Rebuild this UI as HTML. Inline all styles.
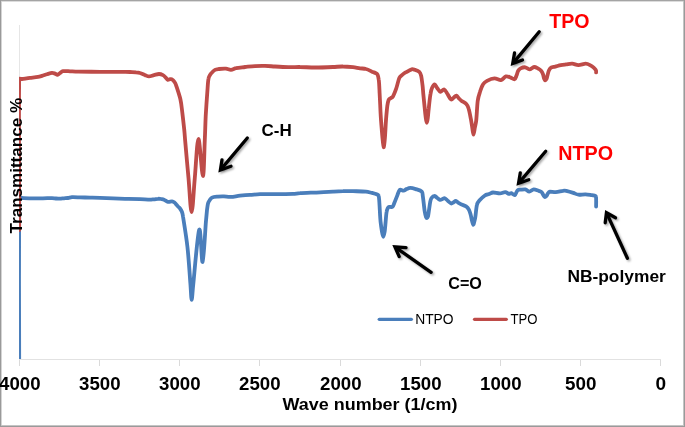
<!DOCTYPE html>
<html><head><meta charset="utf-8"><style>
html,body{margin:0;padding:0;background:#fff;}
body{width:685px;height:427px;overflow:hidden;position:relative;}
svg{position:absolute;left:0;top:0;display:block;will-change:transform;}
text{font-family:"Liberation Sans",sans-serif;}
</style></head><body>
<svg width="685" height="427" viewBox="0 0 685 427">
<defs>
<clipPath id="pa"><rect x="19" y="20" width="642" height="339"/></clipPath>
<filter id="sh" x="-20%" y="-20%" width="140%" height="140%"><feGaussianBlur stdDeviation="1.2"/></filter>
</defs>
<rect x="0" y="0" width="685" height="427" fill="#fff"/>
<!-- border -->
<rect x="1" y="1" width="683" height="1" fill="#dcdcdc"/>
<rect x="1" y="1" width="1" height="425" fill="#d4d4d4"/>
<rect x="1" y="425" width="683" height="1" fill="#c4c4c4"/>
<rect x="683" y="1" width="1" height="425" fill="#c4c4c4"/>
<rect x="0" y="0" width="685" height="1" fill="#a4a4a4"/>
<rect x="0" y="0" width="1" height="427" fill="#9a9a9a"/>
<rect x="684" y="0" width="1" height="427" fill="#9a9a9a"/>
<rect x="0" y="426" width="685" height="1" fill="#9a9a9a"/>
<!-- axes -->
<g stroke-width="1" fill="none">
<line x1="19.5" y1="25" x2="19.5" y2="359" stroke="#e6e6e6"/>
<line x1="19" y1="359.5" x2="661" y2="359.5" stroke="#e2e2e2"/>
<g stroke="#dadada"><line x1="19.5" y1="360" x2="19.5" y2="366"/><line x1="99.5" y1="360" x2="99.5" y2="366"/><line x1="179.5" y1="360" x2="179.5" y2="366"/><line x1="259.5" y1="360" x2="259.5" y2="366"/><line x1="340.5" y1="360" x2="340.5" y2="366"/><line x1="420.5" y1="360" x2="420.5" y2="366"/><line x1="500.5" y1="360" x2="500.5" y2="366"/><line x1="580.5" y1="360" x2="580.5" y2="366"/><line x1="660.5" y1="360" x2="660.5" y2="366"/></g>
</g>
<!-- series -->
<g clip-path="url(#pa)">
<path d="M19.20,362.00 C19.2,334.7 18.7,225.3 19.2,198.0 C19.2,197.0 21.0,198.0 22.0,198.0 C25.5,198.1 35.0,198.4 40.0,198.4 C44.2,198.4 49.3,198.1 52.0,198.1 C53.4,198.1 54.7,198.4 56.0,198.5 C57.3,198.6 58.7,198.7 60.0,198.7 C61.3,198.7 62.7,198.4 64.0,198.3 C65.3,198.2 66.7,198.2 68.0,198.0 C69.3,197.8 70.6,197.3 72.0,197.2 C74.0,197.1 77.2,197.3 80.0,197.4 C83.0,197.5 86.7,197.5 90.0,197.6 C93.3,197.7 96.5,197.8 100.0,197.9 C105.8,198.1 118.3,198.5 125.0,198.8 C130.2,198.9 135.8,199.1 140.0,199.2 C143.5,199.3 147.7,199.6 150.0,199.6 C151.4,199.6 152.7,199.4 154.0,199.3 C155.3,199.2 156.8,198.8 158.0,198.8 C159.1,198.7 160.0,198.8 161.0,199.0 C162.0,199.2 163.0,199.3 164.0,199.7 C165.2,200.2 166.7,201.6 168.0,201.9 C169.3,202.2 170.9,201.3 172.0,201.4 C173.0,201.5 173.8,202.0 174.5,202.5 C175.2,203.0 175.5,203.6 176.0,204.2 C176.6,204.9 177.3,205.8 178.0,206.5 C178.7,207.2 179.4,207.7 180.0,208.5 C180.7,209.4 181.5,210.7 182.0,212.0 C182.5,213.3 182.8,214.9 183.0,216.5 C183.9,222.3 186.2,236.0 187.4,246.6 C188.7,258.0 189.8,276.1 190.5,285.0 C190.9,290.2 191.2,299.8 191.7,299.8 C192.1,299.8 192.6,290.2 193.2,285.0 C194.4,273.3 197.6,233.5 199.2,229.7 C200.8,225.9 201.5,263.3 202.6,262.0 C203.7,260.7 205.2,230.6 205.9,221.9 C206.3,217.7 206.7,213.1 207.0,210.0 C207.3,207.7 207.6,205.1 208.0,203.5 C208.3,202.4 208.8,201.5 209.5,200.5 C210.2,199.5 210.8,198.2 212.0,197.6 C213.4,196.9 216.0,196.8 218.0,196.6 C220.0,196.4 221.9,196.3 224.0,196.4 C226.2,196.5 228.5,197.1 231.0,196.9 C233.7,196.8 236.8,196.0 240.0,195.7 C243.2,195.4 246.7,195.1 250.0,194.9 C253.3,194.7 256.5,194.3 260.0,194.2 C265.0,194.1 274.5,194.1 280.0,194.1 C284.5,194.0 289.7,194.1 293.0,193.9 C295.5,193.8 297.5,193.3 300.0,193.2 C304.5,192.9 314.5,192.6 320.0,192.3 C324.6,192.1 329.2,191.8 333.0,191.6 C336.5,191.4 339.7,191.2 343.0,191.2 C346.3,191.1 349.5,191.2 353.0,191.2 C356.8,191.3 362.8,191.3 366.0,191.6 C368.1,191.8 370.2,192.5 372.0,192.9 C373.8,193.4 375.9,194.0 377.0,194.4 C377.6,194.6 378.3,194.9 378.5,195.5 C378.9,196.4 379.1,198.4 379.2,200.0 C379.4,202.4 379.6,206.5 379.8,210.0 C380.0,213.7 380.2,218.3 380.6,222.0 C381.0,225.5 381.6,229.5 382.0,232.0 C382.3,233.7 382.9,236.8 383.3,236.8 C383.7,236.8 384.3,233.7 384.6,232.0 C385.0,229.5 385.3,225.3 385.6,222.0 C385.9,218.7 386.2,214.3 386.6,212.0 C386.8,210.6 387.4,208.9 387.8,208.0 C388.1,207.4 388.6,207.0 389.3,206.8 C390.1,206.6 391.6,207.5 392.5,206.8 C393.4,206.1 393.8,204.2 394.4,202.8 C395.2,200.9 396.5,197.3 397.4,195.2 C398.2,193.3 398.7,190.7 399.7,189.9 C400.7,189.2 402.4,190.8 403.5,190.7 C404.6,190.6 405.4,189.6 406.5,189.1 C407.6,188.6 408.9,187.9 410.3,187.9 C411.8,187.9 413.9,188.5 415.7,189.1 C417.6,189.7 420.6,190.4 421.8,191.6 C422.9,192.7 422.5,194.4 422.8,196.0 C423.1,198.1 423.5,201.3 423.8,204.0 C424.1,206.7 424.4,209.8 424.8,212.0 C425.1,213.8 425.6,216.0 426.0,217.0 C426.2,217.5 426.7,218.1 427.0,218.0 C427.3,217.9 427.8,217.1 428.0,216.5 C428.3,215.2 428.7,212.3 429.0,210.0 C429.4,207.6 429.8,204.0 430.2,202.0 C430.5,200.6 430.8,199.0 431.5,198.0 C432.2,197.0 433.7,196.0 434.7,196.0 C435.7,196.0 436.4,197.4 437.3,198.0 C438.2,198.6 439.1,199.6 440.0,199.8 C440.9,200.0 441.7,199.3 442.5,199.0 C443.3,198.7 444.0,197.9 444.8,198.2 C445.7,198.5 446.9,200.1 448.0,201.0 C449.1,201.9 450.2,203.3 451.1,203.5 C452.0,203.7 452.7,202.8 453.5,202.3 C454.3,201.9 455.0,200.7 455.8,200.8 C456.6,200.9 457.5,202.2 458.5,202.8 C459.5,203.4 460.5,204.0 461.6,204.5 C462.9,205.1 465.2,205.7 466.4,206.6 C467.6,207.4 468.3,208.5 469.0,209.8 C469.7,211.1 470.1,212.8 470.6,214.5 C471.1,216.2 471.4,218.3 471.8,220.0 C472.2,221.7 472.8,224.5 473.2,224.7 C473.6,224.9 474.1,222.3 474.5,221.0 C474.9,219.7 475.2,218.2 475.4,216.6 C475.8,213.8 476.3,207.2 477.0,204.5 C477.4,202.8 478.5,201.6 479.6,200.3 C480.9,198.8 483.3,196.6 484.9,195.5 C486.2,194.6 487.8,194.5 489.1,194.0 C490.5,193.5 491.5,192.6 493.0,192.5 C494.8,192.4 497.9,193.5 500.0,193.4 C501.9,193.3 503.8,192.0 505.3,192.1 C506.7,192.2 507.8,193.6 508.8,193.8 C509.7,194.0 510.5,193.0 511.4,193.2 C512.4,193.4 513.9,195.6 514.9,195.1 C515.9,194.6 516.5,191.2 517.5,190.3 C518.4,189.5 519.8,189.8 521.0,189.7 C522.3,189.5 524.0,189.1 525.4,189.4 C526.8,189.7 527.9,191.6 529.3,191.6 C530.7,191.6 532.2,189.5 533.7,189.4 C535.2,189.3 537.2,190.4 538.5,190.8 C539.6,191.2 540.8,191.4 541.6,192.1 C542.4,192.8 542.7,194.0 543.2,194.8 C543.7,195.6 544.2,196.8 544.8,197.0 C545.3,197.2 546.0,196.5 546.5,196.0 C547.0,195.4 547.4,194.1 547.9,193.4 C548.4,192.7 548.7,191.7 549.6,191.6 C550.9,191.4 553.6,192.2 555.8,192.1 C558.0,192.0 561.0,191.0 562.8,190.8 C564.0,190.6 565.1,190.6 566.3,190.8 C568.0,191.2 571.3,192.2 573.3,192.9 C575.1,193.5 576.6,194.5 578.5,194.7 C580.5,194.9 583.3,194.2 585.5,194.3 C587.7,194.4 590.2,194.9 591.7,195.1 C592.6,195.2 593.6,195.3 594.3,195.6 C595.0,195.8 595.9,195.9 596.0,196.6 C596.3,198.4 596.1,204.8 596.1,206.5" fill="none" stroke="#4a7ebb" stroke-width="3.8" stroke-linejoin="round" stroke-linecap="round"/>
<path d="M19.20,230.00 C19.2,204.9 18.7,104.4 19.2,79.2 C19.2,78.2 21.0,79.1 22.0,79.0 C23.8,78.8 27.3,78.1 30.0,77.8 C32.7,77.5 36.0,77.2 38.0,76.9 C39.4,76.7 40.6,76.3 42.0,75.9 C43.5,75.5 45.3,74.7 47.0,74.2 C48.7,73.7 50.7,73.0 52.0,72.9 C53.1,72.8 54.1,73.3 55.0,73.6 C55.9,73.9 56.7,75.0 57.5,74.9 C58.3,74.8 59.1,73.6 60.0,73.0 C60.9,72.4 61.8,71.4 63.0,71.2 C64.7,70.9 67.6,71.2 70.0,71.3 C72.5,71.4 75.2,71.6 78.0,71.6 C83.0,71.7 93.0,71.8 100.0,71.8 C107.0,71.8 115.0,71.8 120.0,71.8 C123.5,71.8 127.3,72.0 130.0,72.0 C132.1,72.1 134.3,72.1 136.0,72.3 C137.4,72.4 138.6,72.5 140.0,73.0 C141.5,73.4 143.5,74.5 145.0,75.1 C146.4,75.6 147.5,76.4 149.0,76.4 C150.5,76.4 152.3,75.5 154.0,75.1 C155.7,74.7 157.5,74.0 159.0,74.0 C160.5,74.0 161.8,74.5 163.0,75.1 C164.2,75.7 165.2,77.0 166.0,77.8 C166.6,78.4 167.1,79.5 167.7,79.7 C168.3,80.0 168.9,79.4 169.5,79.3 C170.2,79.2 171.0,78.8 171.6,79.2 C172.5,79.7 174.1,81.3 174.8,82.3 C175.4,83.1 175.7,84.0 176.0,85.0 C176.9,87.8 179.3,94.7 180.4,99.3 C181.4,103.8 181.7,107.8 182.3,112.4 C182.9,117.4 183.7,124.7 184.2,129.3 C184.6,133.0 184.8,136.3 185.1,140.0 C185.8,148.1 187.4,166.0 188.5,178.0 C189.6,190.0 190.5,212.2 191.6,212.2 C192.7,212.2 193.7,190.0 194.8,178.0 C195.9,165.8 197.1,139.3 198.4,139.0 C199.8,138.7 201.8,175.8 202.9,176.0 C204.0,176.2 204.3,150.0 204.8,140.0 C205.2,131.7 205.3,124.5 205.7,116.2 C206.2,107.5 207.1,94.4 207.6,88.1 C207.8,84.8 208.1,80.8 208.5,78.6 C208.7,77.3 209.4,76.1 210.0,75.1 C210.6,74.1 211.2,73.3 212.0,72.5 C212.8,71.6 213.8,70.5 215.0,69.9 C216.2,69.3 217.6,69.2 219.0,69.0 C220.8,68.8 224.0,68.6 226.0,68.7 C227.8,68.8 229.3,69.9 231.0,69.8 C232.7,69.8 234.2,68.5 236.0,68.2 C238.3,67.7 241.8,67.4 245.0,67.0 C248.2,66.7 251.7,66.3 255.0,66.1 C258.3,65.9 261.7,65.8 265.0,65.9 C268.3,66.0 271.5,66.3 275.0,66.5 C279.2,66.7 285.8,67.2 290.0,67.2 C293.5,67.3 296.5,66.9 300.0,67.0 C304.2,67.0 309.7,67.5 315.0,67.5 C320.5,67.5 328.3,67.2 333.0,67.0 C336.5,66.9 339.7,66.4 343.0,66.5 C346.3,66.5 350.2,66.9 353.0,67.2 C355.5,67.5 357.8,68.0 360.0,68.3 C362.1,68.6 364.0,68.4 366.0,69.0 C368.0,69.5 370.3,70.9 372.0,71.7 C373.4,72.3 375.1,72.8 376.0,73.3 C376.6,73.6 377.2,73.9 377.5,74.5 C378.0,75.6 378.6,78.0 378.8,80.0 C379.2,83.1 379.4,88.8 379.6,93.0 C379.8,97.2 380.0,100.8 380.2,105.0 C380.4,109.5 380.6,114.8 381.0,120.0 C381.4,125.2 381.9,131.4 382.3,136.0 C382.7,140.0 383.2,147.0 383.6,147.3 C384.0,147.6 384.6,141.3 384.9,138.0 C385.3,133.4 385.6,125.3 386.0,120.0 C386.4,115.1 386.9,109.3 387.3,106.0 C387.6,103.9 388.1,101.3 388.6,100.0 C389.0,99.1 389.9,98.8 390.6,98.2 C391.3,97.7 392.3,97.5 392.8,96.7 C393.7,95.2 395.1,91.7 396.1,88.9 C397.2,85.8 398.3,80.2 399.4,77.8 C400.1,76.3 401.7,75.3 402.8,74.4 C403.9,73.5 404.9,72.9 406.1,72.2 C407.6,71.3 410.2,69.7 411.7,69.3 C412.8,69.0 413.8,69.5 414.8,69.8 C416.1,70.2 418.2,70.8 419.3,71.8 C420.4,72.8 420.8,74.4 421.2,76.0 C421.7,78.2 422.1,82.0 422.5,85.0 C422.9,88.0 423.0,90.9 423.3,94.0 C423.7,98.0 424.4,105.0 424.8,109.0 C425.1,112.2 425.5,115.7 425.8,118.0 C426.0,119.7 426.5,122.8 426.8,122.8 C427.1,122.8 427.6,119.7 427.8,118.0 C428.1,115.7 428.3,112.1 428.7,109.0 C429.1,105.0 429.9,97.5 430.5,94.0 C430.8,91.9 431.3,89.6 432.0,88.0 C432.6,86.6 433.8,84.3 434.7,84.4 C435.6,84.5 436.6,87.3 437.5,88.5 C438.4,89.7 439.3,91.6 440.4,91.8 C441.5,92.0 443.0,89.1 444.2,89.5 C445.4,89.9 446.4,92.4 447.5,94.0 C448.6,95.7 449.9,98.8 451.0,99.4 C452.0,100.0 452.9,98.1 453.8,97.5 C454.7,96.9 455.5,95.4 456.4,95.6 C457.3,95.8 458.1,97.6 459.0,98.5 C459.9,99.4 460.7,100.1 461.7,100.9 C462.9,101.8 465.1,102.7 466.3,104.0 C467.5,105.3 468.1,106.8 468.6,108.5 C469.4,111.0 470.3,116.0 470.9,119.2 C471.5,122.3 471.9,125.4 472.3,128.0 C472.7,130.3 473.1,134.7 473.5,134.7 C473.9,134.7 474.4,130.3 474.8,128.0 C475.2,125.7 475.9,123.3 476.2,120.7 C476.7,116.2 477.1,105.7 477.7,100.9 C478.1,97.6 479.1,94.5 480.0,91.8 C480.8,89.2 481.7,86.4 482.9,84.6 C483.9,83.0 485.3,81.8 487.0,80.9 C488.9,79.9 492.1,78.5 494.4,78.4 C496.7,78.3 499.1,80.4 501.0,80.1 C502.9,79.8 504.3,76.8 505.9,76.4 C507.5,76.0 509.4,77.1 510.8,77.6 C512.2,78.1 513.5,79.6 514.5,79.3 C515.5,79.0 515.9,77.0 516.5,75.6 C517.1,74.2 517.5,71.9 518.2,70.7 C518.8,69.7 519.6,68.9 520.6,68.4 C521.8,67.8 523.8,67.1 525.3,67.3 C526.8,67.5 528.0,69.5 529.5,69.4 C531.0,69.4 532.6,67.1 534.1,67.0 C535.6,66.9 537.1,68.1 538.3,68.7 C539.4,69.3 540.3,69.9 541.1,70.8 C541.9,71.7 542.4,72.8 542.9,74.0 C543.4,75.3 543.7,77.5 544.1,78.5 C544.4,79.2 544.8,80.2 545.2,80.3 C545.6,80.4 546.2,79.6 546.5,79.0 C546.9,78.2 547.1,76.7 547.5,75.4 C547.9,74.0 548.3,71.8 548.9,70.5 C549.4,69.4 550.0,68.3 551.0,67.7 C552.1,67.0 553.7,67.0 555.2,66.6 C556.8,66.2 559.0,65.5 560.8,65.1 C562.6,64.7 564.2,64.6 566.0,64.4 C567.9,64.2 570.1,63.6 572.2,63.7 C574.3,63.8 576.2,65.1 578.4,65.1 C580.6,65.1 583.8,63.7 585.7,63.7 C587.3,63.7 588.7,64.4 590.0,65.1 C591.3,65.8 592.7,66.8 593.7,67.7 C594.6,68.5 595.5,69.4 595.9,70.2 C596.3,70.9 596.1,72.0 596.1,72.4" fill="none" stroke="#be4b48" stroke-width="3.8" stroke-linejoin="round" stroke-linecap="round"/>
</g>
<!-- arrow shadows -->
<g stroke="#000" stroke-opacity="0.35" stroke-width="3.3" fill="none" stroke-linecap="round" stroke-linejoin="round" filter="url(#sh)">
<path d="M540.70,33.30 L515.84,63.16"/><path stroke-linejoin="miter" stroke-miterlimit="10" d="M516.00,54.50 L514.24,65.08 L524.00,61.50"/><path d="M248.80,139.50 L223.50,169.65"/><path stroke-linejoin="miter" stroke-miterlimit="10" d="M223.50,161.30 L221.90,171.56 L232.50,167.80"/><path d="M547.20,152.80 L521.65,182.85"/><path stroke-linejoin="miter" stroke-miterlimit="10" d="M521.80,174.30 L520.03,184.75 L530.30,181.20"/><path d="M432.60,273.80 L398.46,249.82"/><path stroke-linejoin="miter" stroke-miterlimit="10" d="M407.50,249.10 L396.42,248.38 L400.70,258.10"/><path d="M628.90,259.80 L609.00,216.35"/><path stroke-linejoin="miter" stroke-miterlimit="10" d="M606.70,224.30 L607.96,214.08 L617.00,219.30"/>
</g>
<g stroke="#000" stroke-width="3.3" fill="none" stroke-linecap="round" stroke-linejoin="round">
<path d="M539.20,31.80 L514.34,61.66"/><path stroke-linejoin="miter" stroke-miterlimit="10" d="M514.50,53.00 L512.74,63.58 L522.50,60.00"/><path d="M247.30,138.00 L222.00,168.15"/><path stroke-linejoin="miter" stroke-miterlimit="10" d="M222.00,159.80 L220.40,170.06 L231.00,166.30"/><path d="M545.70,151.30 L520.15,181.35"/><path stroke-linejoin="miter" stroke-miterlimit="10" d="M520.30,172.80 L518.53,183.25 L528.80,179.70"/><path d="M431.10,272.30 L396.96,248.32"/><path stroke-linejoin="miter" stroke-miterlimit="10" d="M406.00,247.60 L394.92,246.88 L399.20,256.60"/><path d="M627.40,258.30 L607.50,214.85"/><path stroke-linejoin="miter" stroke-miterlimit="10" d="M605.20,222.80 L606.46,212.58 L615.50,217.80"/>
</g>
<!-- axis labels -->
<g font-weight="bold" font-size="17.5px" text-anchor="middle" fill="#000">
<text x="19.8" y="389.8" textLength="41.5" lengthAdjust="spacingAndGlyphs">4000</text><text x="99.8" y="389.8" textLength="41.5" lengthAdjust="spacingAndGlyphs">3500</text><text x="179.8" y="389.8" textLength="41.5" lengthAdjust="spacingAndGlyphs">3000</text><text x="259.8" y="389.8" textLength="41.5" lengthAdjust="spacingAndGlyphs">2500</text><text x="340.8" y="389.8" textLength="41.5" lengthAdjust="spacingAndGlyphs">2000</text><text x="420.8" y="389.8" textLength="41.5" lengthAdjust="spacingAndGlyphs">1500</text><text x="500.8" y="389.8" textLength="41.5" lengthAdjust="spacingAndGlyphs">1000</text><text x="580.8" y="389.8" textLength="31.4" lengthAdjust="spacingAndGlyphs">500</text><text x="660.8" y="389.8" textLength="10.6" lengthAdjust="spacingAndGlyphs">0</text>
</g>
<text x="370" y="409.5" font-weight="bold" font-size="16px" text-anchor="middle" fill="#000" textLength="174.8" lengthAdjust="spacingAndGlyphs">Wave number (1/cm)</text>
<text transform="translate(21.9,165.7) rotate(-90)" font-weight="bold" font-size="16.5px" text-anchor="middle" fill="#000" textLength="135.5" lengthAdjust="spacingAndGlyphs">Transmittance %</text>
<!-- annotations -->
<text x="549.2" y="28" font-weight="bold" font-size="19.3px" fill="#ff0000" textLength="40.3" lengthAdjust="spacingAndGlyphs">TPO</text>
<text x="558.2" y="160" font-weight="bold" font-size="19.3px" fill="#ff0000" textLength="54.8" lengthAdjust="spacingAndGlyphs">NTPO</text>
<text x="261.5" y="136.3" font-weight="bold" font-size="16.5px" fill="#000" textLength="30.2" lengthAdjust="spacingAndGlyphs">C-H</text>
<text x="448.3" y="288.6" font-weight="bold" font-size="16.5px" fill="#000" textLength="33.6" lengthAdjust="spacingAndGlyphs">C=O</text>
<text x="567.4" y="282" font-weight="bold" font-size="16.5px" fill="#000" textLength="98.4" lengthAdjust="spacingAndGlyphs">NB-polymer</text>
<!-- legend -->
<line x1="379.2" y1="319.3" x2="411.4" y2="319.3" stroke="#4a7ebb" stroke-width="3.2" stroke-linecap="round"/>
<text x="415.2" y="323.8" font-size="14px" fill="#000" textLength="38.4" lengthAdjust="spacingAndGlyphs">NTPO</text>
<line x1="474.5" y1="319.3" x2="506.3" y2="319.3" stroke="#be4b48" stroke-width="3.2" stroke-linecap="round"/>
<text x="510.5" y="323.8" font-size="14px" fill="#000" textLength="27" lengthAdjust="spacingAndGlyphs">TPO</text>
</svg>
</body></html>
